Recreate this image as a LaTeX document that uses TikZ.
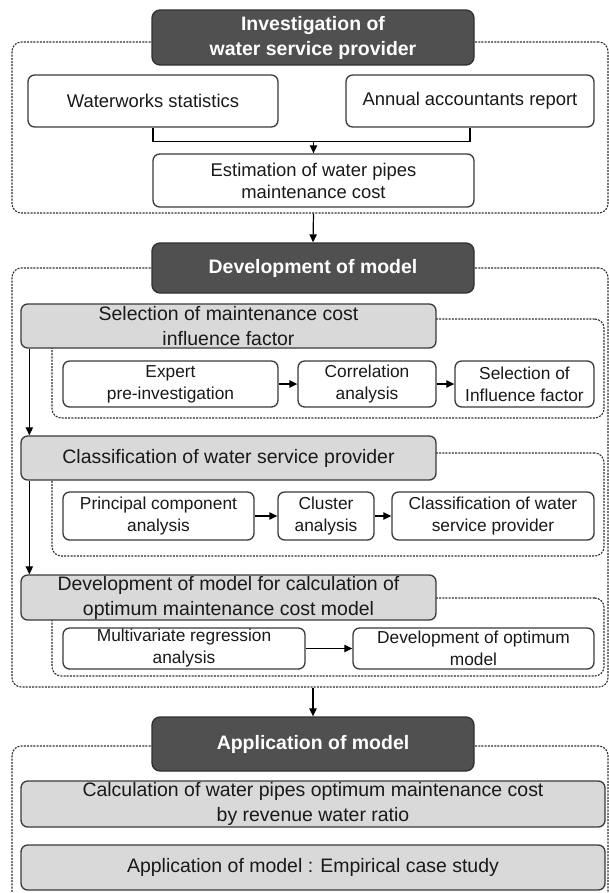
\documentclass[tikz,border=0pt]{standalone}
\usepackage{fontspec}
\setmainfont{Liberation Sans}
\usetikzlibrary{arrows.meta,calc}
\definecolor{hdr}{HTML}{505050}
\definecolor{gfill}{HTML}{D9D9D9}
\definecolor{edge}{HTML}{3A3A3A}
\tikzset{
  base/.style={draw=edge, line width=1pt, rounded corners=5pt, inner sep=0pt, align=center},
  hdrbox/.style={base, fill=hdr, draw=hdr!60!black, text=white, font=\fontsize{14.6}{18.75}\selectfont\bfseries, rounded corners=6pt},
  graybox/.style={base, fill=gfill, text=black!90, font=\fontsize{14.6}{18.75}\selectfont},
  whitebox/.style={base, fill=white, text=black!90, font=\fontsize{13}{16.5}\selectfont},
  topbox/.style={whitebox, font=\fontsize{13.8}{16.5}\selectfont},
  dbox/.style={draw=edge!80!black, line width=0.85pt, dash pattern=on 1.5pt off 0.9pt, rounded corners=7pt, inner sep=0pt},
  conn/.style={draw=black, line width=0.9pt},
  arr/.style={conn, -{Triangle[length=6pt,width=5.5pt]}},
}
\newcommand{\bx}[7]{\node[#2, minimum width={(#5-#3)*0.75pt}, minimum height={(#6-#4)*0.75pt}] (#1) at ({(#3+#5)/2},{(#4+#6)/2}) {#7};}
\begin{document}
\begin{tikzpicture}[x=0.75pt,y=-0.75pt]
\useasboundingbox (0,0) rectangle (609,893);
\clip (0,0) rectangle (609,893);

% dashed frames
\bx{d1}{dbox}{12}{42}{608}{213}{}
\bx{d2}{dbox}{12}{268}{608}{687}{}
\bx{d3}{dbox}{12}{746}{608}{920}{}
\bx{s1}{dbox}{52}{319}{604}{418}{}
\bx{s2}{dbox}{52}{453}{604}{556}{}
\bx{s3}{dbox}{52}{598}{604}{676}{}

% stage 1
\bx{h1}{hdrbox}{152}{10}{474}{65}{Investigation of\\water service provider}
\bx{ws}{topbox}{28}{75}{278}{127}{Waterworks statistics}
\bx{ar}{topbox}{346}{75}{594}{127}{Annual accountants report}
\bx{est}{topbox}{153}{154}{474}{207}{Estimation of water pipes\\maintenance cost}

% stage 2
\bx{h2}{hdrbox}{152}{243}{474}{293}{Development of model}
\bx{g1}{graybox}{21}{304}{436}{348}{Selection of maintenance cost\\influence factor}
\bx{e1}{whitebox}{63}{361}{278}{407}{Expert\\pre-investigation}
\bx{e2}{whitebox}{298}{361}{436}{407}{Correlation\\analysis}
\bx{e3}{whitebox}{455}{361}{594}{407}{Selection of\\Influence factor}
\bx{g2}{graybox}{21}{436}{436}{480}{Classification of water service provider}
\bx{p1}{whitebox}{63}{492}{254}{540}{Principal component\\analysis}
\bx{p2}{whitebox}{278}{492}{374}{540}{Cluster\\analysis}
\bx{p3}{whitebox}{392}{492}{594}{540}{Classification of water\\service provider}
\bx{g3}{graybox}{21}{575}{436}{620}{Development of model for calculation of\\optimum maintenance cost model}
\bx{m1}{whitebox}{63}{628}{305}{669}{Multivariate regression\\analysis}
\bx{m2}{whitebox}{353}{628}{594}{669}{Development of optimum\\model}

% stage 3
\bx{h3}{hdrbox}{152}{717}{474}{771}{Application of model}
\bx{a1}{graybox}{21}{781}{605}{827}{Calculation of water pipes optimum maintenance cost\\by revenue water ratio}
\bx{a2}{graybox}{21}{845}{605}{890}{Application of model : Empirical case study}

% connectors
\draw[conn] (ws.south) -- ++(0,14) coordinate (jn) -| (ar.south);
\draw[arr] (jn -| est.north) -- (est.north);
\draw[arr] (est.south |- d1.south) -- (h2.north);
\draw[arr] (h3.north |- d2.south) -- (h3.north);
\draw[arr] (e1.east) -- (e2.west);
\draw[arr] (e2.east) -- (e3.west);
\draw[arr] (p1.east) -- (p2.west);
\draw[arr] (p2.east) -- (p3.west);
\draw[arr] (m1.east) -- (m2.west);
\draw[arr] ([xshift=6.75pt]g1.south west) -- ([xshift=6.75pt]g2.north west);
\draw[arr] ([xshift=6.75pt]g2.south west) -- ([xshift=6.75pt]g3.north west);
\end{tikzpicture}
\end{document}
